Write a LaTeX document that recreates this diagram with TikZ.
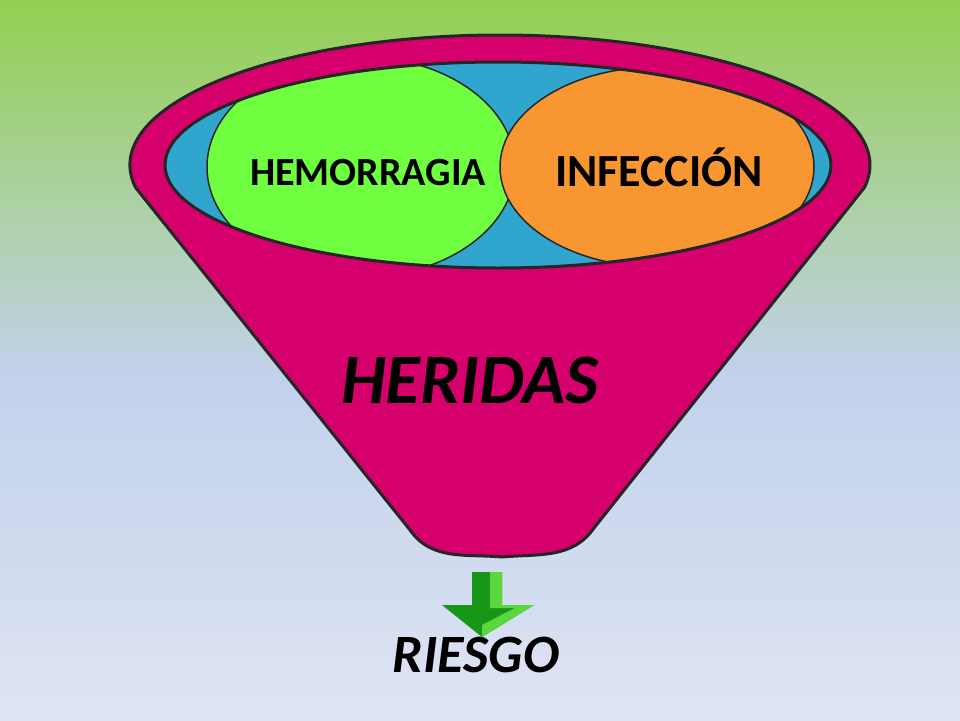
\documentclass[tikz,border=0pt]{standalone}
\usepackage{fontspec}
\setmainfont{Carlito}
\usetikzlibrary{positioning}
\definecolor{bgtop}{RGB}{146,208,80}
\definecolor{bgmid}{RGB}{194,209,236}
\definecolor{bgbot}{RGB}{222,228,243}
\definecolor{funnelpink}{RGB}{214,0,108}
\definecolor{rimblue}{RGB}{48,166,206}
\definecolor{hemogreen}{RGB}{112,255,64}
\definecolor{infecorange}{RGB}{248,150,50}
\definecolor{arrowgreen}{RGB}{24,150,24}
\definecolor{arrowlight}{RGB}{90,215,60}

\begin{document}
\begin{tikzpicture}[x=1pt, y=-1pt,
		outline/.style={draw=black!85, line width=3pt},
		blob/.style={draw=black!85, line width=1.5pt},
		txt/.style={font=\bfseries, text=black, inner sep=0pt}]
	\useasboundingbox (0,0) rectangle (960,720);
	\shade[top color=bgtop, bottom color=bgmid] (0,0) rectangle (960,376);
	\shade[top color=bgmid, bottom color=bgbot] (0,375) rectangle (960,720);
	% funnel
	\draw[outline, fill=funnelpink, line join=round] (135.6,187.6) arc[start angle=170, end angle=370, x radius=370, y radius=130]
		-- (594,528) to[out=-125, in=5] (502,557) to[out=175, in=-55] (410,530) -- cycle;
	% rim
	\fill[rimblue] (498,165) ellipse[x radius=333, y radius=103];
	\begin{scope}
		\clip (498,165) ellipse[x radius=333, y radius=103];
		\draw[blob, fill=hemogreen] (361,167) ellipse[x radius=154, y radius=110];
		\draw[blob, fill=infecorange] (657,167) ellipse[x radius=157, y radius=100];
	\end{scope}
	\draw[outline] (498,165) ellipse[x radius=333, y radius=103];
	\node[txt, font=\bfseries\fontsize{40}{40}\selectfont] (hemo) at (368,173) {HEMORRAGIA};
	\node[txt, font=\bfseries\fontsize{46}{46}\selectfont] (infec) at (659,167) {INFECCIÓN};
	\node[txt, font=\bfseries\itshape\fontsize{71}{71}\selectfont] (heridas) at (470,380) {HERIDAS};
	\node[txt, font=\bfseries\itshape\fontsize{54}{54}\selectfont] (riesgo) at (476,655) {RIESGO};
	% arrow
	\fill[arrowgreen] (472,572) -- (502,572) -- (502,605) -- (534,605) -- (482,637) -- (442,605) -- (472,605) -- cycle;
	\fill[arrowlight] (490,572) -- (502,572) -- (502,605) -- (534,605) -- (482,637) -- (482,625) -- (515,608) -- (490,608) -- cycle;
\end{tikzpicture}
\end{document}
